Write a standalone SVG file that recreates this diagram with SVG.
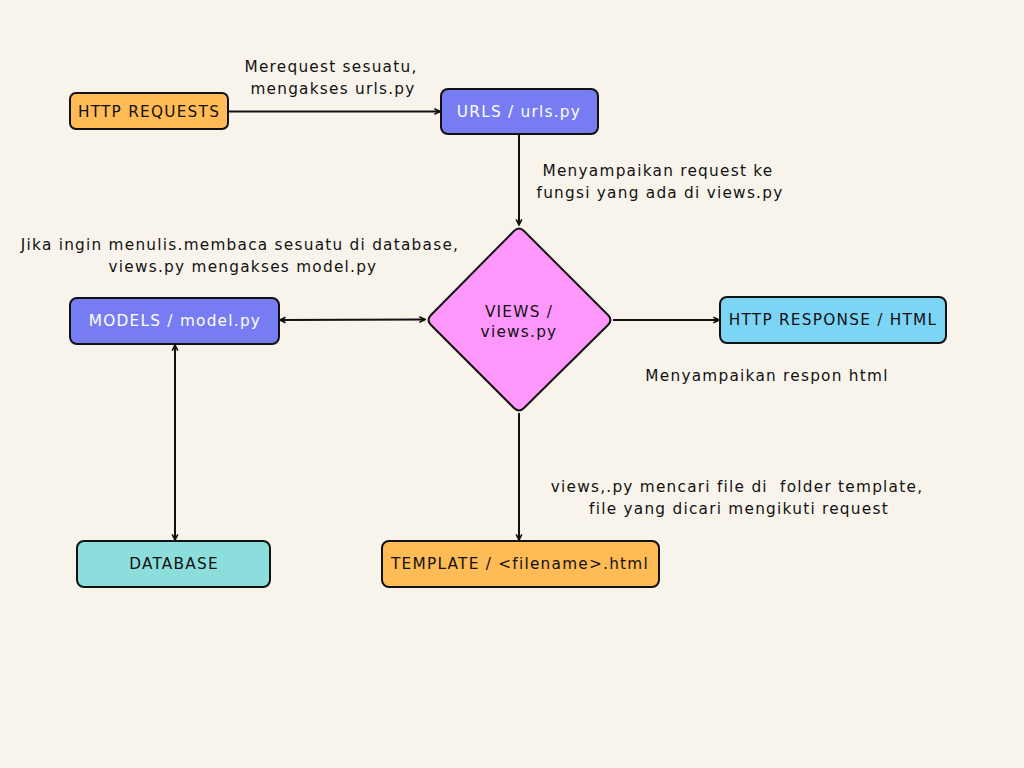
<svg xmlns="http://www.w3.org/2000/svg" width="1024" height="768" viewBox="0 0 1024 768">
<defs>
<style>
.n{stroke:#111;stroke-width:2}
.t{font-family:"DejaVu Sans","Liberation Sans",sans-serif;font-size:15.3px;letter-spacing:1.25px;fill:#111;text-anchor:middle}
.w{fill:#fff}
.c{stroke:#111;stroke-width:2;fill:none}
</style>
<marker id="ah" viewBox="0 0 10 10" refX="9" refY="5" markerWidth="8" markerHeight="8" orient="auto-start-reverse" markerUnits="userSpaceOnUse">
<path d="M2,1.5 L9,5 L2,8.5" fill="none" stroke="#111" stroke-width="2"/>
</marker>
</defs>
<rect width="1024" height="768" fill="#f8f4ec"/>
<g id="connectors">
<line class="c" x1="229" y1="111.5" x2="440" y2="111.5" marker-end="url(#ah)"/>
<line class="c" x1="519" y1="134" x2="519" y2="225" marker-end="url(#ah)"/>
<line class="c" x1="280" y1="320" x2="425" y2="319.5" marker-start="url(#ah)" marker-end="url(#ah)"/>
<line class="c" x1="613" y1="320" x2="719" y2="320" marker-end="url(#ah)"/>
<line class="c" x1="175" y1="345" x2="175" y2="540" marker-start="url(#ah)" marker-end="url(#ah)"/>
<line class="c" x1="519" y1="413" x2="519" y2="540" marker-end="url(#ah)"/>
</g>
<g id="labels">
<text class="t" x="331" y="72">Merequest sesuatu,</text>
<text class="t" x="333" y="94">mengakses urls.py</text>
<text class="t" x="658" y="176">Menyampaikan request ke</text>
<text class="t" x="660" y="198">fungsi yang ada di views.py</text>
<text class="t" x="240" y="250">Jika ingin menulis.membaca sesuatu di database,</text>
<text class="t" x="243" y="272">views.py mengakses model.py</text>
<text class="t" x="767" y="381">Menyampaikan respon html</text>
<text class="t" x="737" y="492" xml:space="preserve">views,.py mencari file di  folder template,</text>
<text class="t" x="739" y="514">file yang dicari mengikuti request</text>
</g>
<g id="http-requests">
<rect class="n" x="70" y="93" width="158" height="36" rx="6" fill="#ffbb55"/>
<text class="t" x="149" y="117">HTTP REQUESTS</text>
</g>
<g id="urls">
<rect class="n" x="441" y="89" width="157" height="45" rx="7" fill="#787cf2"/>
<text class="t w" x="519" y="117">URLS / urls.py</text>
</g>
<g id="views">
<path class="n" d="M514,231 Q519,226 524,231 L608,315 Q613,320 608,325 L524,408 Q519,413 514,408 L431,325 Q426,320 431,315 Z" fill="#fd97fb"/>
<text class="t" x="519" y="317">VIEWS /</text>
<text class="t" x="519" y="337">views.py</text>
</g>
<g id="models">
<rect class="n" x="70" y="298" width="209" height="46" rx="7" fill="#787cf2"/>
<text class="t w" x="175" y="326">MODELS / model.py</text>
</g>
<g id="http-response">
<rect class="n" x="720" y="297" width="226" height="46" rx="7" fill="#7dd5f5"/>
<text class="t" x="833" y="325">HTTP RESPONSE / HTML</text>
</g>
<g id="database">
<rect class="n" x="77" y="541" width="193" height="46" rx="7" fill="#8cdedc"/>
<text class="t" x="174" y="569">DATABASE</text>
</g>
<g id="template">
<rect class="n" x="382" y="541" width="277" height="46" rx="7" fill="#ffbb55"/>
<text class="t" x="520" y="569">TEMPLATE / &lt;filename&gt;.html</text>
</g>
</svg>
